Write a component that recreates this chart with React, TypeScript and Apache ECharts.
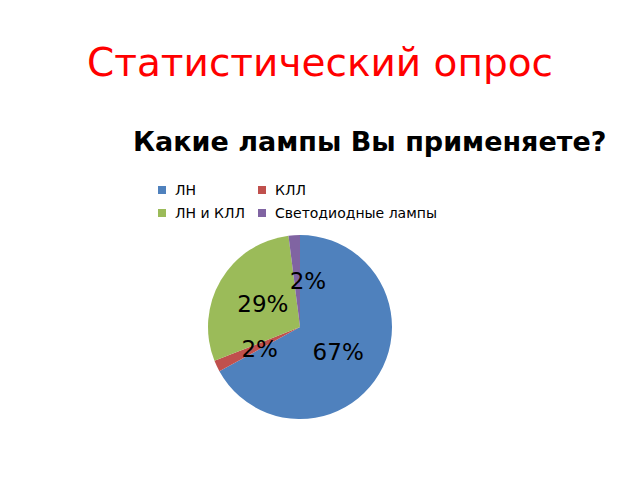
import React, { useEffect, useRef } from 'react';
import * as echarts from 'echarts';

// Данные опроса
const categories: string[] = ['ЛН', 'КЛЛ', 'ЛН и КЛЛ', 'Светодиодные лампы'];
const shares: number[] = [67, 2, 29, 2];
const colors: string[] = ['#4F81BD', '#C0504D', '#9BBB59', '#8064A2'];
// небольшие сдвиги подписей, как на слайде
const labelShift: number[][] = [[-4, 0], [4, 1], [5, 2], [11, 3]];

const App: React.FC = () => {
    const chartRef = useRef<HTMLDivElement>(null);

    useEffect(() => {
        if (!chartRef.current) return;
        const myChart = echarts.init(chartRef.current, undefined, { renderer: 'svg' });

        const legendStyle = {
            orient: 'vertical' as const,
            top: 183,
            padding: 0,
            itemWidth: 8,
            itemHeight: 8,
            itemGap: 9,
            icon: 'rect',
            textStyle: { fontFamily: 'DejaVu Sans', fontSize: 14, color: '#000', padding: [0, 0, 0, 4] },
            selectedMode: false,
        };

        const option: echarts.EChartsOption = {
            animation: false,
            backgroundColor: '#fff',
            color: colors,
            title: [
                {
                    text: 'Статистический опрос',
                    left: 'center',
                    top: 38,
                    textStyle: { fontFamily: 'DejaVu Sans', fontSize: 39, fontWeight: 'normal', color: '#FF0000' },
                },
                {
                    text: 'Какие лампы Вы применяете?',
                    left: 128,
                    top: 123,
                    textStyle: { fontFamily: 'DejaVu Sans', fontSize: 27, fontWeight: 'bold', color: '#000' },
                },
            ],
            legend: [
                { ...legendStyle, left: 158, data: [categories[0], categories[2]] },
                { ...legendStyle, left: 258, data: [categories[1], categories[3]] },
            ],
            series: [
                {
                    type: 'pie',
                    center: [300, 327],
                    radius: 92,
                    startAngle: 90,
                    clockwise: true,
                    silent: true,
                    label: {
                        show: true,
                        position: 'inside',
                        formatter: '{d}%',
                        fontFamily: 'DejaVu Sans',
                        fontSize: 23,
                        color: '#000',
                    },
                    labelLine: { show: false },
                    data: categories.map((name, i) => ({
                        name,
                        value: shares[i],
                        label: { offset: labelShift[i] },
                    })),
                },
            ],
        };

        myChart.setOption(option);

        return () => {
            myChart.dispose();
        };
    }, []);

    return <div ref={chartRef} style={{ position: 'fixed', left: 0, top: 0, width: '640px', height: '480px' }} />;
};

export default App;
